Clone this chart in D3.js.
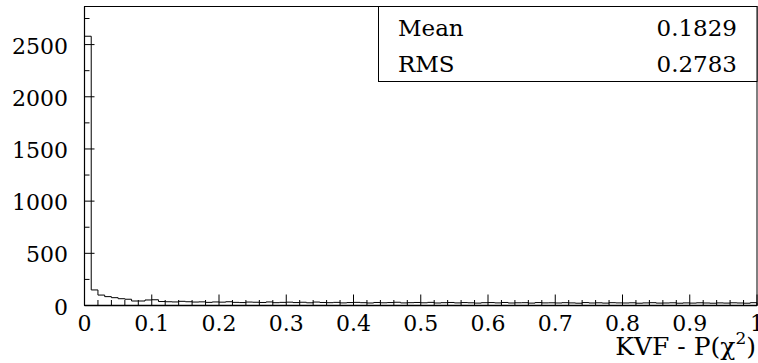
<!DOCTYPE html>
<html>
<head>
<meta charset="utf-8">
<script src="https://cdn.jsdelivr.net/npm/d3@7"></script>
<style>
  body { margin: 0; background: #fff; }
  svg { display: block; }
</style>
</head>
<body>
<svg id="chart" width="758" height="363"></svg>
<script>
// histogram: 100 bins on [0, 1]
const binEdges = d3.range(0, 101).map((i) => i / 100);
const counts = [
  2580, 149, 100, 85, 75, 65, 60, 43, 43, 53,
  55, 38, 36, 34, 40, 36, 33, 35, 30, 34,
  32, 36, 30, 28, 33, 31, 29, 34, 27, 30,
  32, 28, 31, 26, 33, 29, 27, 30, 25, 28,
  30, 27, 24, 29, 26, 28, 31, 25, 27, 29,
  26, 30, 24, 27, 29, 25, 28, 26, 23, 27,
  28, 25, 29, 24, 26, 27, 23, 28, 25, 26,
  24, 27, 25, 22, 28, 24, 26, 23, 27, 25,
  24, 26, 22, 25, 27, 23, 24, 26, 22, 25,
  23, 26, 24, 22, 25, 23, 26, 24, 22, 27
];
const xTicks = [0, 0.1, 0.2, 0.3, 0.4, 0.5, 0.6, 0.7, 0.8, 0.9, 1];
const yTicks = [0, 500, 1000, 1500, 2000, 2500];
const statLabels = ["Mean", "RMS"];
const statValues = ["0.1829", "0.2783"];

const svg = d3.select("#chart");
const frameL = 84.5, frameR = 757, frameT = 6.5, frameB = 305.5;
const serif = "'DejaVu Serif', serif";

const x = d3.scaleLinear().domain([0, 1]).range([frameL, frameR]);
const y = d3.scaleLinear().domain([0, 2865]).range([frameB, frameT]);

// frame
svg.append("rect")
  .attr("x", frameL).attr("y", frameT)
  .attr("width", frameR - frameL).attr("height", frameB - frameT)
  .attr("fill", "none").attr("stroke", "#000").attr("stroke-width", 1);

// histogram outline
const pts = [[0, 0]];
counts.forEach((c, i) => {
  pts.push([binEdges[i], c]);
  pts.push([binEdges[i + 1], c]);
});
pts.push([1, 0]);
const line = d3.line().x((d) => x(d[0])).y((d) => y(d[1]));
svg.append("path")
  .attr("d", line(pts))
  .attr("fill", "none")
  .attr("stroke", "#000")
  .attr("stroke-width", 1);

// x axis line
svg.append("line")
  .attr("x1", frameL).attr("x2", frameR).attr("y1", frameB).attr("y2", frameB)
  .attr("stroke", "#000").attr("stroke-width", 1.5);
// y axis line
svg.append("line")
  .attr("x1", frameL).attr("x2", frameL).attr("y1", frameT).attr("y2", frameB)
  .attr("stroke", "#000").attr("stroke-width", 1.2);

// x ticks (pointing up, inside the frame)
const xMinor = d3.range(0, 51).map((i) => i / 50);
svg.append("g").selectAll("line")
  .data(xMinor)
  .join("line")
  .attr("x1", (d) => x(d)).attr("x2", (d) => x(d))
  .attr("y1", frameB)
  .attr("y2", (d, i) => frameB - (i % 5 === 0 ? 11 : 5.5))
  .attr("stroke", "#000").attr("stroke-width", 1);

svg.append("g").selectAll("text")
  .data(xTicks)
  .join("text")
  .attr("x", (d) => x(d))
  .attr("y", 331)
  .attr("text-anchor", "middle")
  .attr("font-family", serif)
  .attr("font-size", 22)
  .text((d) => d3.format("")(d));

// y ticks
const yMinor = d3.range(0, 2865, 250);
svg.append("g").selectAll("line")
  .data(yMinor)
  .join("line")
  .attr("x1", frameL)
  .attr("x2", (d) => frameL + (d % 500 === 0 ? 10 : 5))
  .attr("y1", (d) => y(d)).attr("y2", (d) => y(d))
  .attr("stroke", "#000").attr("stroke-width", 1);

svg.append("g").selectAll("text")
  .data(yTicks)
  .join("text")
  .attr("x", 68)
  .attr("y", (d) => y(d) + 9)
  .attr("text-anchor", "end")
  .attr("font-family", serif)
  .attr("font-size", 22)
  .text((d) => d);

// axis title
const title = svg.append("text")
  .attr("x", 756)
  .attr("y", 355)
  .attr("text-anchor", "end")
  .attr("font-family", serif)
  .attr("font-size", 25);
title.append("tspan").text("KVF - P(χ");
title.append("tspan").attr("font-size", 17).attr("dy", -11).text("2");
title.append("tspan").attr("dy", 11).text(")");

// stats box
const boxX = 378.5, boxY = 6.5, boxW = frameR - 378.5, boxH = 75;
svg.append("rect")
  .attr("x", boxX).attr("y", boxY)
  .attr("width", boxW).attr("height", boxH)
  .attr("fill", "#fff").attr("stroke", "#000").attr("stroke-width", 1);

svg.append("g").selectAll("text")
  .data(statLabels)
  .join("text")
  .attr("x", 398)
  .attr("y", (d, i) => 36 + i * 35.5)
  .attr("font-family", serif)
  .attr("font-size", 23)
  .text((d) => d);

svg.append("g").selectAll("text")
  .data(statValues)
  .join("text")
  .attr("x", 737)
  .attr("y", (d, i) => 36 + i * 35.5)
  .attr("text-anchor", "end")
  .attr("font-family", serif)
  .attr("font-size", 23)
  .text((d) => d);
</script>
</body>
</html>
